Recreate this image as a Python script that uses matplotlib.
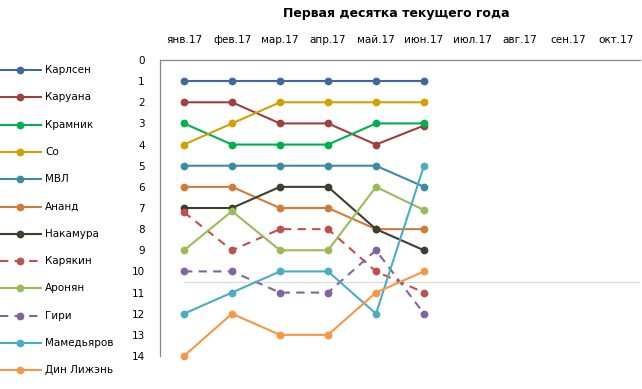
import matplotlib
matplotlib.use("Agg")
import matplotlib.pyplot as plt
from matplotlib.lines import Line2D

plt.rcParams['font.family'] = ['DejaVu Sans']

months = ['янв.17', 'фев.17', 'мар.17', 'апр.17', 'май.17', 'июн.17',
          'июл.17', 'авг.17', 'сен.17', 'окт.17']
y_ticks = list(range(0, 15))

names = ['Карлсен', 'Каруана', 'Крамник', 'Со', 'МВЛ', 'Ананд', 'Накамура',
         'Карякин', 'Аронян', 'Гири', 'Мамедьяров', 'Дин Лижэнь']

carlsen = [1, 1, 1, 1, 1, 1]
caruana = [2, 2, 3, 3, 4, 3.1]
kramnik = [3, 4, 4, 4, 3, 3]
so = [4, 3, 2, 2, 2, 2]
mvl = [5, 5, 5, 5, 5, 6]
anand = [6, 6, 7, 7, 8, 8]
nakamura = [7, 7, 6, 6, 8, 9]
karjakin = [7.2, 9, 8, 8, 10, 11]
aronian = [9, 7.15, 9, 9, 6, 7.1]
giri = [10, 10, 11, 11, 9, 12]
mamedyarov = [12, 11, 10, 10, 12, 5]
ding = [14, 12, 13, 13, 11, 10]

series = [carlsen, caruana, kramnik, so, mvl, anand, nakamura,
          karjakin, aronian, giri, mamedyarov, ding]
colors = ['#41679C', '#A0403D', '#00B050', '#D2A000', '#3B8BA6', '#D17B3A',
          '#403C2E', '#C0504D', '#9BBB59', '#8064A2', '#4BACC6', '#F79646']
dashed = [False] * 7 + [True, False, True, False, False]

W, H = 642, 389
fig = plt.figure(figsize=(W / 100, H / 100), dpi=100)
ax = fig.add_axes([160 / W, 1 - 356 / H, 480 / W, 296 / H])

x = list(range(len(months)))
for vals, c, d in zip(series, colors, dashed):
    ls = (0, (4, 3)) if d else '-'
    ax.plot(x[:len(vals)], vals, color=c, lw=1.5, ls=ls, marker='o',
            markersize=5.6, markeredgewidth=0, clip_on=False)

ax.hlines(10.5, 0, 9.5, color='#D9D9D9', lw=0.8, zorder=0)

ax.set_xlim(-0.5, 9.5)
ax.set_ylim(14, 0)
ax.set_xticks(x)
ax.set_xticklabels(months, fontsize=7.5)
ax.set_yticks(y_ticks)
ax.set_yticklabels([str(v) for v in y_ticks], fontsize=7.5)
ax.xaxis.tick_top()
ax.tick_params(axis='both', length=0)
ax.tick_params(axis='x', pad=11)
ax.tick_params(axis='y', pad=11)
for s in ['right', 'bottom']:
    ax.spines[s].set_visible(False)
for s in ['top', 'left']:
    ax.spines[s].set_color('#868686')
    ax.spines[s].set_linewidth(0.9)

fig.text(396 / W, 1 - 13 / H, 'Первая десятка текущего года', ha='center',
         va='center', fontsize=9, fontweight='bold')

# legend (manual)
for i, (name, c, d) in enumerate(zip(names, colors, dashed)):
    yy = 1 - (70 + 27.3 * i) / H
    ls = (0, (4, 3)) if d else '-'
    ln = Line2D([0, 20 / W, 41 / W], [yy, yy, yy], color=c, lw=1.5, ls=ls,
                marker='o', markersize=5.6, markeredgewidth=0, markevery=[1],
                transform=fig.transFigure)
    fig.add_artist(ln)
    fig.text(45 / W, yy, name, ha='left', va='center', fontsize=7.5)

fig.savefig('out.png', dpi=100)
